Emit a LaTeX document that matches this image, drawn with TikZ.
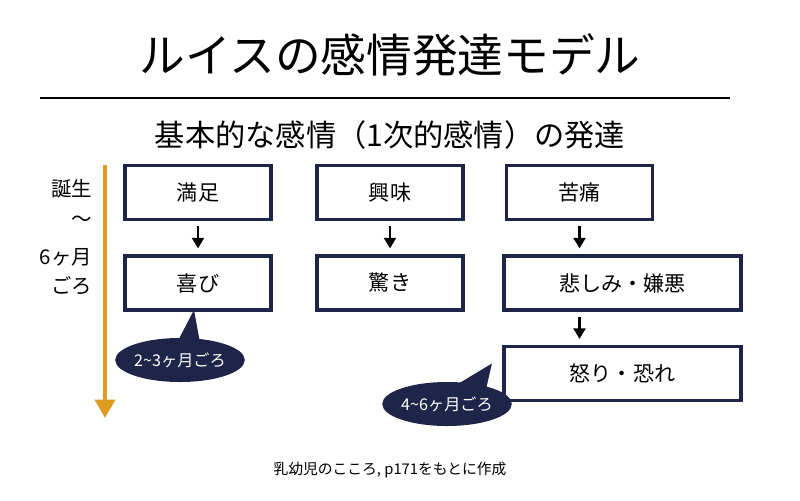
\documentclass[tikz,border=0pt]{standalone}
\usepackage{fontspec}
\setmainfont{Noto Sans CJK JP}
\usepackage{tikz}
\usetikzlibrary{shapes,arrows,arrows.meta,positioning,calc}
\definecolor{navy}{HTML}{1F2548}
\definecolor{amber}{HTML}{DE9B22}

\begin{document}
\begin{tikzpicture}[x=0.025cm,y=-0.025cm,
  every node/.style={align=center,font=\fontsize{15}{18}\selectfont},
  emo/.style={draw=navy,line width=2.8pt,minimum width=3.65cm,minimum height=1.35cm,inner sep=0pt},
  wide/.style={emo,minimum width=5.93cm},
  bub/.style={ellipse,fill=navy,text=white,minimum width=2.7cm,minimum height=1.1cm,inner sep=0pt,font=\fontsize{11.5}{13}\selectfont},
  arr/.style={-{Triangle[length=7.5pt,width=8.5pt]},line width=1.6pt,shorten <=3.5pt,shorten >=4pt}]
\useasboundingbox (0,0) rectangle (800,500);

\node (title) at (390,55) {\fontsize{32.5}{38}\selectfont ルイスの感情発達モデル};
\coordinate (l0) at (40,98);
\coordinate (l1) at (730,98);
\draw[line width=1pt] (l0) -- (l1);
\node (sub) at (390,135) {\fontsize{21.5}{25}\selectfont 基本的な感情（1次的感情）の発達};

% time axis
\coordinate (t0) at (105,165);
\coordinate (t1) at (105,418);
\draw[amber,line width=2.8pt,-{Triangle[length=13pt,width=14pt]}] (t0) -- (t1);
\node[anchor=east,font=\fontsize{14.5}{17}\selectfont] (a1) at (97,189) {誕生};
\node[anchor=east,font=\fontsize{14.5}{17}\selectfont] (a2) at (97,221) {〜};
\node[anchor=east,font=\fontsize{14.5}{17}\selectfont] (a3) at (97,257) {6ヶ月};
\node[anchor=east,font=\fontsize{14.5}{17}\selectfont] (a4) at (97,286) {ごろ};

% emotions
\node[emo] (1) at (198,192.5) {満足};
\node[emo] (2) at (390,192.5) {興味};
\node[emo] (3) at (579.5,192.5) {苦痛};
\node[emo] (4) at (198,283) {喜び};
\node[emo] (5) at (390,283) {驚き};
\node[wide] (6) at (622.5,283) {悲しみ・嫌悪};
\node[wide] (7) at (622.5,373.5) {怒り・恐れ};

\draw[arr] (1) -- (4);
\draw[arr] (2) -- (5);
\draw[arr] (3) -- (3 |- 6.north);
\draw[arr] (6.south -| 3) -- (7.north -| 3);

% bubbles
\node[bub] (b1) at (180,360) {2\textasciitilde3ヶ月ごろ};
\fill[navy] ($(4.south)+(-4,-2)$) -- ($(b1.north)+(-2,3)$) -- ($(b1.north)+(20,5)$) -- cycle;
\node[bub] (b2) at (447,404) {4\textasciitilde6ヶ月ごろ};
\fill[navy] ($(7.west)+(-10,-10)$) -- ($(b2.north)+(8,4)$) -- ($(b2.north)+(38,12)$) -- cycle;

\node[font=\fontsize{10.5}{12}\selectfont] (src) at (390,470) {乳幼児のこころ, p171をもとに作成};
\end{tikzpicture}
\end{document}
